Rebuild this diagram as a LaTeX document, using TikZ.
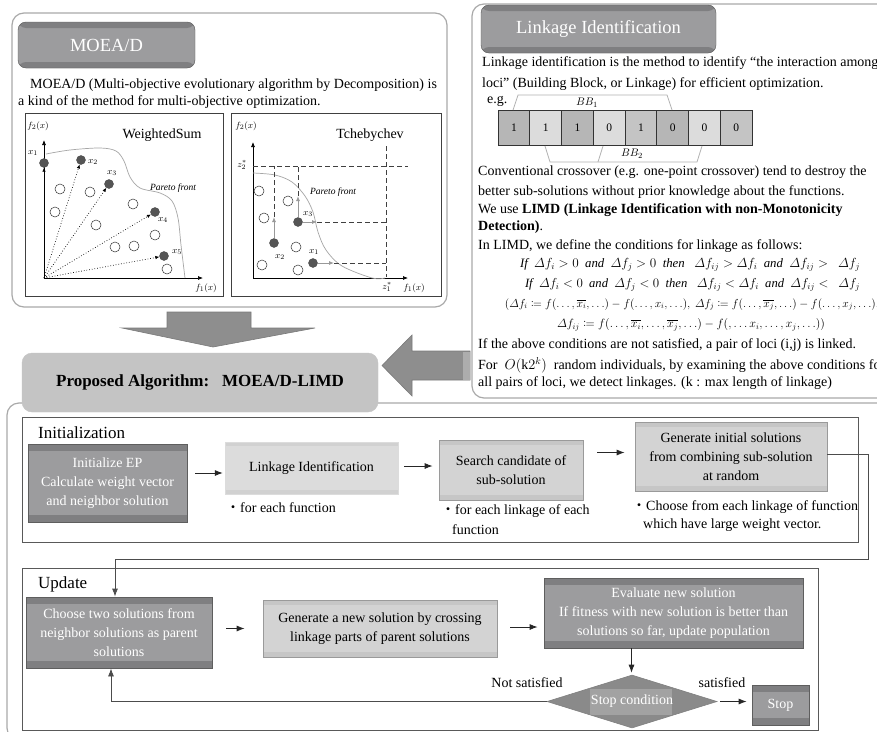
\documentclass[tikz,border=0pt]{standalone}
\usepackage{amsmath,mathtools}
\usepackage{fontspec}
\setmainfont{Liberation Serif}
\newfontfamily\cjk{Noto Sans CJK JP}
\usetikzlibrary{arrows.meta,shapes.geometric,calc}

\definecolor{panelline}{HTML}{A9A9A9}
\definecolor{dkfill}{HTML}{9C9C9E}
\definecolor{dkband}{HTML}{7F7F81}
\definecolor{dkedge}{HTML}{5E5E5E}
\definecolor{ltfill}{HTML}{DCDCDC}
\definecolor{ltband}{HTML}{D1D1D1}
\definecolor{mdfill}{HTML}{D3D3D3}
\definecolor{mdband}{HTML}{C6C6C6}
\definecolor{mdedge}{HTML}{9A9A9A}
\definecolor{propfill}{HTML}{C4C4C4}
\definecolor{bigarrow}{HTML}{8E8E8E}
\definecolor{bigarrowedge}{HTML}{7A7A7A}
\definecolor{dotfill}{HTML}{555555}
\definecolor{cellA}{HTML}{B6B6B6}
\definecolor{cellB}{HTML}{DCDCDC}
\definecolor{cellC}{HTML}{C4C4C4}
\definecolor{diafill}{HTML}{8A8A8A}
\definecolor{diainner}{HTML}{A2A2A2}

\newcommand{\bodysize}{\fontsize{14}{16}\selectfont}
\newcommand{\boxsize}{\fontsize{14}{19}\selectfont}
\newcommand{\dotsep}{{\cjk ・}}

\tikzset{
  panel/.style={draw=panelline, line width=1.2pt, rounded corners=12pt},
  bandpic/.style 2 args={path picture={
      \fill[#1] (path picture bounding box.north west) rectangle ([yshift=-#2]path picture bounding box.north east);
      \fill[#1] (path picture bounding box.south west) rectangle ([yshift=#2]path picture bounding box.south east);}},
  titlebox/.style={draw=dkedge, fill=dkfill, rounded corners=8pt, text=white,
      font=\fontsize{18.5}{20}\selectfont, inner sep=0pt, bandpic={dkband}{6pt}},
  dkbox/.style={draw=dkedge, fill=dkfill, text=white, align=center, inner sep=0pt,
      font=\boxsize, line width=0.8pt, bandpic={dkband}{7pt}},
  ltbox/.style={draw=ltfill, fill=ltfill, align=center, inner sep=0pt,
      font=\boxsize, bandpic={ltband}{4pt}},
  mdbox/.style={draw=mdedge, fill=mdfill, align=center, inner sep=0pt,
      font=\boxsize, line width=0.8pt, bandpic={mdband}{5pt}},
  frame/.style={draw=black!65, line width=1pt},
  txt/.style={inner sep=0pt, anchor=west, font=\bodysize},
  ctxt/.style={inner sep=0pt, font=\bodysize},
  arr/.style={-{Latex[length=8pt,width=6pt]}, line width=0.8pt, black!85},
  bigarr/.style={fill=bigarrow, draw=bigarrowedge, line width=0.6pt},
  plotbox/.style={draw=black!75, line width=0.8pt},
  axisarr/.style={-{Latex[length=5pt,width=4pt]}, line width=0.7pt},
  pareto/.style={draw=black!35, line width=0.7pt},
  fpt/.style={circle, fill=dotfill, draw=black!70, minimum size=9pt, inner sep=0pt},
  opt/.style={circle, fill=white, draw=black!80, line width=0.5pt, minimum size=10pt, inner sep=0pt},
  dotarr/.style={dotted, line width=0.7pt, -{Latex[length=4pt,width=3.5pt]}},
  garr/.style={draw=black!40, line width=0.9pt, -{Latex[length=5pt,width=4pt]}},
  dsh/.style={dashed, dash pattern=on 5pt off 3pt, line width=0.6pt, black!75},
  plab/.style={inner sep=0pt, font=\fontsize{9.5}{10}\selectfont},
  cell/.style={draw=black!80, line width=0.9pt, minimum width=31.75pt, minimum height=35pt,
      inner sep=0pt, font=\fontsize{11.5}{12}\selectfont},
  bracket/.style={draw=black!30, line width=0.8pt},
}

\begin{document}
\begin{tikzpicture}[x=1pt,y=-1pt]
\useasboundingbox (0,0) rectangle (877,731);
\clip (0,0) rectangle (877,731);
\fill[white] (0,0) rectangle (877,731);

% ---------------- MOEA/D panel ----------------
\draw[panel] (12,13) rectangle (447,307);
\node[titlebox, minimum width=177pt, minimum height=46pt] (moeatitle) at (106.5,45) {MOEA/D};
\node[txt] (moeap1) at (30,85) {MOEA/D (Multi-objective evolutionary algorithm by Decomposition) is};
\node[txt] (moeap2) at (18,102) {a kind of the method for multi-objective optimization.};

% Weighted sum plot
\draw[plotbox] (25,113) rectangle (223,296);
\coordinate (wo) at (44,278);
\coordinate (wy) at (44,140);
\coordinate (wx) at (203,278);
\draw[axisarr] (wo) -- (wy);
\draw[axisarr] (wo) -- (wx);
\node[plab] (wf2) at (38,126) {$f_2(x)$};
\node[plab] (wf1) at (206,288) {$f_1(x)$};
\node[inner sep=0pt, font=\fontsize{14}{15}\selectfont] (wtitle) at (162,135) {WeightedSum};
\draw[pareto] plot[smooth, tension=0.55] coordinates {(46,154) (70,150) (100,148) (116,151) (124,161) (130,177) (140,188) (160,193) (172,201) (178,218) (181,245) (185,278)};
\node[plab, font=\fontsize{9.5}{10}\selectfont\itshape] (wpf) at (173,188) {Pareto front};
\foreach \n/\p in {a/{(60,189)}, b/{(55,212)}, c/{(90,192)}, d/{(96,225)}, e/{(133,204)}, f/{(115,247)}, g/{(134,246)}, h/{(155,235)}, i/{(167,269)}}
  \node[opt] (wo\n) at \p {};
\node[fpt] (wp1) at (44,163) {};
\node[fpt] (wp2) at (81,160) {};
\node[fpt] (wp3) at (109,184) {};
\node[fpt] (wp4) at (155,212) {};
\node[fpt] (wp5) at (164,256) {};
\foreach \k in {1,...,5} \draw[dotarr] (wo) -- (wp\k);
\node[plab] (wl1) at (33,153) {$x_1$};
\node[plab] (wl2) at (93,162) {$x_2$};
\node[plab] (wl3) at (112,173) {$x_3$};
\node[plab] (wl4) at (163,220) {$x_4$};
\node[plab] (wl5) at (177,252) {$x_5$};

% Tchebychev plot
\draw[plotbox] (231,113) rectangle (441,296);
\coordinate (to) at (253,278);
\coordinate (ty) at (253,142);
\coordinate (tx) at (408,278);
\draw[axisarr] (to) -- (ty);
\draw[axisarr] (to) -- (tx);
\node[plab] (tf2) at (246,126) {$f_2(x)$};
\node[plab] (tf1) at (414,288) {$f_1(x)$};
\node[plab] (tz2) at (242,165) {$z_2^*$};
\node[plab] (tz1) at (387,287) {$z_1^*$};
\node[inner sep=0pt, font=\fontsize{14}{15}\selectfont] (ttitle) at (370,135) {Tchebychev};
\coordinate (zh0) at (253,166);
\coordinate (zh1) at (408,166);
\coordinate (zv0) at (386,146);
\coordinate (zv1) at (386,277);
\draw[dsh] (zh0) -- (zh1);
\draw[dsh] (zv0) -- (zv1);
\draw[pareto] plot[smooth, tension=0.55] coordinates {(253,173) (275,175) (292,182) (305,196) (313,212) (318,232) (326,250) (342,266) (372,278) (385,278)};
\node[plab, font=\fontsize{9.5}{10}\selectfont\itshape] (tpf) at (333,192) {Pareto front};
\foreach \n/\p in {a/{(259,191)}, b/{(264,218)}, c/{(288,201)}, d/{(296,247)}, e/{(262,265)}, f/{(298,270)}}
  \node[opt] (to\n) at \p {};
\node[fpt] (tp2) at (274,243) {};
\node[fpt] (tp3) at (298,222) {};
\node[fpt] (tp1) at (313,263) {};
\coordinate (ta2) at (274,217);
\coordinate (ta3u) at (298,196);
\coordinate (ta3r) at (317,222);
\coordinate (ta1) at (334,263);
\draw[dsh] (ta2) -- (ta2 |- zh0);
\draw[dsh] (ta3u) -- (ta3u |- zh0);
\draw[dsh] (ta3r) -- (ta3r -| zv0);
\draw[dsh] (ta1) -- (ta1 -| zv0);
\draw[garr] (tp2) -- (ta2);
\draw[garr] (tp3) -- (ta3u);
\draw[garr] (tp3) -- (ta3r);
\draw[garr] (tp1) -- (ta1);
\node[plab] (tl2) at (280,257) {$x_2$};
\node[plab] (tl3) at (308,214) {$x_3$};
\node[plab] (tl1) at (314,252) {$x_1$};

% ---------------- Linkage identification panel ----------------
\draw[panel] (472,4) rectangle (905,398);
\node[titlebox, minimum width=235pt, minimum height=48pt] (linktitle) at (598.5,29) {Linkage Identification};
\node[txt] (lk1) at (482,63) {Linkage identification is the method to identify “the interaction among};
\node[txt] (lk2) at (482,84) {loci” (Building Block, or Linkage) for efficient optimization.};
\node[txt] (eg) at (487,101) {e.g.};

\foreach \v/\c [count=\i from 0] in {1/cellA, 1/cellB, 1/cellA, 0/cellB, 1/cellC, 0/cellA, 0/cellB, 0/cellC}
  \node[cell, fill=\c] (c\i) at ({513.875+31.75*\i},128) {\v};

\coordinate (b1a) at (513,110);
\coordinate (b1b) at (518,95);
\coordinate (b1c) at (667,95);
\coordinate (b1d) at (672,110);
\draw[bracket] (b1a) -- (b1b) -- (b1c) -- (b1d);
\node[inner sep=0pt, font=\fontsize{11}{12}\selectfont] (bb1) at (587,102.5) {$BB_1$};
\coordinate (b2a) at (545,146);
\coordinate (b2b) at (550,162);
\coordinate (b2c) at (697,162);
\coordinate (b2d) at (702,146);
\coordinate (b2e) at (598,162);
\coordinate (b2f) at (603,146);
\draw[bracket] (b2a) -- (b2b) -- (b2c) -- (b2d);
\draw[bracket] (b2e) -- (b2f);
\node[inner sep=0pt, font=\fontsize{11}{12}\selectfont] (bb2) at (632,154) {$BB_2$};

\node[txt] (lk3) at (478,172) {Conventional crossover (e.g. one-point crossover) tend to destroy the};
\node[txt] (lk4) at (478,192) {better sub-solutions without prior knowledge about the functions.};
\node[txt] (lk5) at (478,210) {We use \textbf{LIMD (Linkage Identification with non-Monotonicity}};
\node[txt] (lk6) at (478,227) {\textbf{Detection)}.};
\node[txt] (lk7) at (478,246) {In LIMD, we define the conditions for linkage as follows:};
\node[ctxt] (fm1) at (690,265) {\resizebox{340pt}{!}{$\mathit{If}\ \ \varDelta f_i>0\ \ \mathit{and}\ \ \varDelta f_j>0\ \ \mathit{then}\ \ \ \varDelta f_{ij}>\varDelta f_i\ \ \mathit{and}\ \ \varDelta f_{ij}>\ \ \varDelta f_j$}};
\node[ctxt] (fm2) at (692.5,285) {\resizebox{335pt}{!}{$\mathit{If}\ \ \varDelta f_i<0\ \ \mathit{and}\ \ \varDelta f_j<0\ \ \mathit{then}\ \ \ \varDelta f_{ij}<\varDelta f_i\ \ \mathit{and}\ \ \varDelta f_{ij}<\ \ \varDelta f_j$}};
\node[ctxt] (fm3) at (692,304.5) {\resizebox{374pt}{!}{$(\varDelta f_i\coloneqq f(\ldots,\overline{x_i},\ldots)-f(\ldots,x_i,\ldots),\ \varDelta f_j\coloneqq f(\ldots,\overline{x_j},\ldots)-f(\ldots,x_j,\ldots),$}};
\node[ctxt] (fm4) at (691,324.5) {\resizebox{268pt}{!}{$\varDelta f_{ij}\coloneqq f(\ldots,\overline{x_i},\ldots,\overline{x_j},\ldots)-f(,\ldots x_i,\ldots,x_j,\ldots))$}};
\node[txt] (lk8) at (478,345) {If the above conditions are not satisfied, a pair of loci (i,j) is linked.};
\node[txt] (lk9) at (478,365) {For \ $O(\mathrm{k}2^k)$ \ random individuals, by examining the above conditions for};
\node[txt] (lk10) at (478,383) {all pairs of loci, we detect linkages. (k : max length of linkage)};

% ---------------- merging arrows ----------------
\draw[bigarr] (167,312) -- (251,312) -- (251,328) -- (315,328) -- (213,347) -- (122,328) -- (167,328) -- cycle;
\draw[bigarr] (470,351) -- (412,351) -- (412,335) -- (382,365.5) -- (412,396) -- (412,380) -- (470,380) -- cycle;
\fill[black!32] (463,351.5) rectangle (470,379.5);

% ---------------- Algorithm panel ----------------
\draw[panel] (7,403) rectangle (905,740);
\node[draw=propfill, fill=propfill, rounded corners=10pt, minimum width=356pt, minimum height=59pt,
      inner sep=0pt, font=\fontsize{17}{20}\selectfont\bfseries] (prop) at (200,382.5)
      {Proposed Algorithm:\ \ \ MOEA/D-LIMD};

% Initialization
\draw[frame] (22,417) rectangle (858,542);
\node[txt, font=\fontsize{17}{18}\selectfont] (initlab) at (38,433) {Initialization};
\node[dkbox, minimum width=159pt, minimum height=78pt] (b1) at (107.5,483)
  {Initialize EP\\Calculate weight vector\\and neighbor solution};
\node[ltbox, minimum width=173pt, minimum height=52pt] (b2) at (311.5,468) {Linkage Identification};
\node[mdbox, minimum width=144pt, minimum height=60pt] (b3) at (511,470) {Search candidate of\\sub-solution};
\node[mdbox, minimum width=192pt, minimum height=69pt] (b4) at (731,456.5)
  {Generate initial solutions\\from combining sub-solution\\at random};
\node[txt] (n2) at (226,508) {\dotsep for each function};
\node[txt] (n3a) at (441,511) {\dotsep for each linkage of each};
\node[txt] (n3b) at (452,530) {function};
\node[txt] (n4a) at (632,507) {\dotsep Choose from each linkage of function};
\node[txt] (n4b) at (643,525) {which have large weight vector.};

\draw[arr, shorten <=8pt, shorten >=2pt] ([yshift=10pt]b1.east) -- ([yshift=10pt]b1.east -| b2.west);
\draw[arr, shorten <=6pt, shorten >=6pt] ([yshift=2pt]b2.east) -- ([yshift=2pt]b2.east -| b3.west);
\draw[arr, shorten <=14pt, shorten >=10pt] ([yshift=4pt]b3.east |- b4.west) -- ([yshift=4pt]b4.west);

% Update
\draw[frame] (22,568) rectangle (818,730);
\node[txt, font=\fontsize{17}{18}\selectfont] (updlab) at (38,584) {Update};
\node[dkbox, minimum width=186pt, minimum height=71pt] (u1) at (119,632.5)
  {Choose two solutions from\\neighbor solutions as parent\\solutions};
\node[mdbox, minimum width=234pt, minimum height=57pt] (u2) at (380,628.5)
  {Generate a new solution by crossing\\linkage parts of parent solutions};
\node[dkbox, minimum width=259pt, minimum height=70pt] (u3) at (673.5,613)
  {Evaluate new solution\\If fitness with new solution is better than\\solutions so far, update population};
\node[diamond, fill=diafill, draw=black!50, line width=0.6pt, aspect=3.2, inner sep=0pt,
      minimum width=170pt, minimum height=53pt,
      path picture={\fill[diainner] ([xshift=-42pt,yshift=-13pt]path picture bounding box.center) rectangle ([xshift=40pt,yshift=13pt]path picture bounding box.center);}]
      (dia) at (632,701.5) {};
\node[inner sep=0pt, text=white, font=\boxsize] (dialab) at (dia.center) {Stop condition};
\node[dkbox, minimum width=57pt, minimum height=40pt] (stop) at (780.5,705) {Stop};
\node[ctxt] (nsat) at (527,683) {Not satisfied};
\node[ctxt] (sat) at (722,683) {satisfied};

\draw[arr, shorten <=14pt, shorten >=18pt] ([yshift=4pt]u1.east) -- ([yshift=4pt]u1.east -| u2.west);
\draw[arr, shorten <=13pt, shorten >=6pt] (u2.east |- 0,627) -- (u3.west |- 0,627);
\draw[arr, shorten >=2pt] ([xshift=-42pt]u3.south) -- ([xshift=-42pt]u3.south |- dia.north);
\draw[arr, shorten <=3pt, shorten >=5pt] (dia.east) -- (dia.east -| stop.west);
\draw[arr, draw=black!70] (dia.west) -| ([xshift=-8pt]u1.south);

% initial solutions feed the update loop
\coordinate (loopA) at (868,559);
\draw[arr, draw=black!70] ([yshift=2pt]b4.east) -| (loopA) -| ([xshift=-4pt]u1.north);
\end{tikzpicture}
\end{document}
